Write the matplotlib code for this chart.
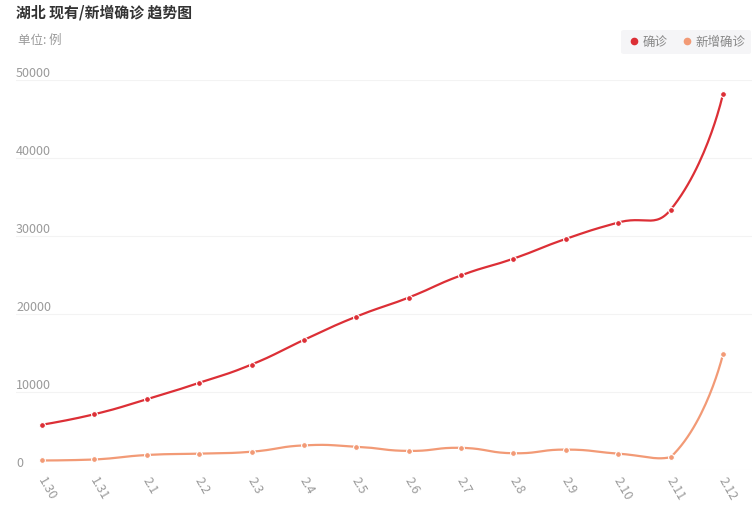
import numpy as np
import matplotlib
matplotlib.use('Agg')
import matplotlib.pyplot as plt
from matplotlib.lines import Line2D

plt.rcParams['font.family'] = ['Noto Sans CJK SC', 'DejaVu Sans']

#data
dates = ['1.30', '1.31', '2.1', '2.2', '2.3', '2.4', '2.5', '2.6', '2.7',
         '2.8', '2.9', '2.10', '2.11', '2.12']
confirmed = [5806, 7153, 9074, 11177, 13522, 16678, 19665, 22112, 24953,
             27100, 29631, 31728, 33366, 48206]
new_confirmed = [1220, 1347, 1921, 2103, 2345, 3156, 2987, 2447, 2841,
                 2147, 2618, 2097, 1638, 14840]
yticks = [0, 10000, 20000, 30000, 40000, 50000]

c_red = '#dc2f36'
c_org = '#f29a76'
c_txt = '#9a9a9a'

W, H = 756, 516
fig = plt.figure(figsize=(W/100, H/100), dpi=100)
# axes in pixels: x 16..752, y 80..470
ax = fig.add_axes([16/W, (H-470)/H, (752-16)/W, (470-80)/H])
step = (723 - 42)/13
ax.set_xlim(-(42-16)/step, 13 + (752-723)/step)
ax.set_ylim(0, 50000)
for s in ax.spines.values():
    s.set_visible(False)
ax.set_yticks([])
ax.set_xticks(range(len(dates)))
ax.set_xticklabels([])
ax.tick_params(axis='x', length=0)

for v in yticks:
    ax.axhline(v, color='#f3f3f3', lw=0.8, zorder=0)
    ax.text(0, v, str(v), transform=ax.get_yaxis_transform(), ha='left',
            va='bottom', color=c_txt, fontsize=9)

for i, d in enumerate(dates):
    ax.annotate(d, (i, 0), xytext=(-1, -6), textcoords='offset points',
                rotation=-60, rotation_mode='anchor', ha='left', va='center',
                color=c_txt, fontsize=9)


def smooth_line(xs, ys, smooth=0.5, n=30):
    # echarts-like bezier smoothing in display space,
    # control points clamped to the bounding box of the series
    pts = ax.transData.transform(np.column_stack([xs, ys]))
    lo, hi = pts.min(axis=0), pts.max(axis=0)
    m = len(pts)
    cp_in, cp_out = pts.copy(), pts.copy()
    for i in range(1, m-1):
        p, pp, pn = pts[i], pts[i-1], pts[i+1]
        v = pn - pp
        l0 = np.hypot(*(p - pp))
        l1 = np.hypot(*(pn - p))
        r = l1/(l0 + l1)
        cp_in[i] = np.clip(p - v*smooth*(1 - r), lo, hi)
        cp_out[i] = np.clip(p + v*smooth*r, lo, hi)
    t = np.linspace(0, 1, n)[:, None]
    out = []
    for i in range(m-1):
        p0, p1, p2, p3 = pts[i], cp_out[i], cp_in[i+1], pts[i+1]
        seg = (1-t)**3*p0 + 3*(1-t)**2*t*p1 + 3*(1-t)*t**2*p2 + t**3*p3
        out.append(seg if i == 0 else seg[1:])
    out = np.vstack(out)
    return ax.transData.inverted().transform(out)


xs = np.arange(len(dates))
for ys, c in [(new_confirmed, c_org), (confirmed, c_red)]:
    sm = smooth_line(xs, ys)
    ax.plot(sm[:, 0], sm[:, 1], color=c, lw=1.6, zorder=3, clip_on=False)
    ax.plot(xs, ys, 'o', color=c, ms=4.2, mec='white', mew=0.8, zorder=4,
            clip_on=False)

fig.text(16/W, 1 - 13/H, '湖北 现有/新增确诊 趋势图', ha='left', va='center',
         fontsize=10.7, fontweight='bold', color='#333333')
fig.text(18/W, 1 - 40/H, '单位: 例', ha='left', va='center',
         fontsize=9, color=c_txt)

handles = [Line2D([], [], ls='', marker='o', color=c_red, ms=4.5),
           Line2D([], [], ls='', marker='o', color=c_org, ms=4.5)]
leg = fig.legend(handles, ['确诊', '新增确诊'], loc='center right',
                 bbox_to_anchor=(751/W, 1 - 42/H), ncol=2, frameon=True,
                 fancybox=True, facecolor='#f3f3f5', edgecolor='none',
                 fontsize=9, handletextpad=0.1, columnspacing=0.9,
                 handlelength=1.2, borderpad=0.45, borderaxespad=0)
for t in leg.get_texts():
    t.set_color('#888888')

fig.savefig('out.png', dpi=100)
